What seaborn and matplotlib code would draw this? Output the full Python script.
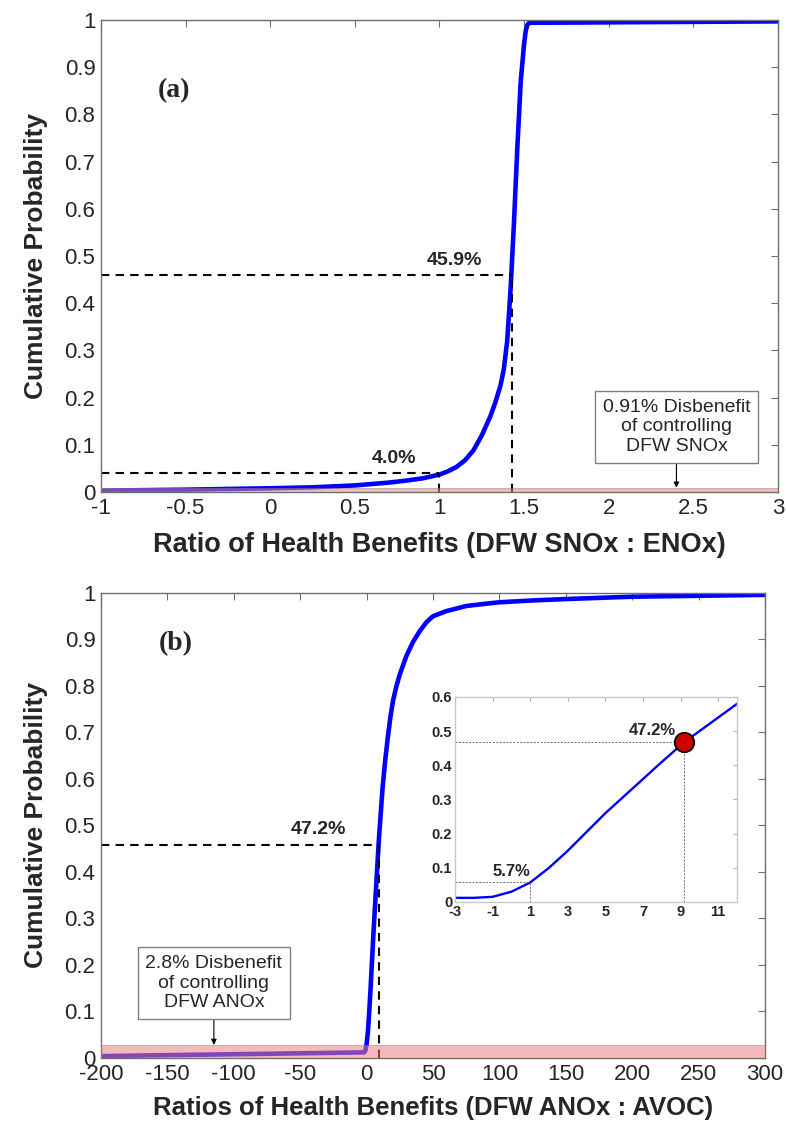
import matplotlib
matplotlib.use("Agg")
import matplotlib.pyplot as plt
import seaborn as sns

# ---------------- data ----------------
# Panel (a): CDF of ratio DFW SNOx : ENOx
ratio_a = [-1.0, -0.75, -0.5, -0.25, 0.0, 0.25, 0.5, 0.6, 0.7, 0.8, 0.9, 1.0, 1.05,
           1.1, 1.15, 1.2, 1.25, 1.3, 1.33, 1.36, 1.38, 1.40, 1.42, 1.44, 1.46, 1.48,
           1.50, 1.51, 1.52, 1.53, 2.0, 2.5, 3.0]
cdf_a = [0.003, 0.004, 0.005, 0.0065, 0.008, 0.010, 0.014, 0.017, 0.020, 0.024, 0.029,
         0.037, 0.044, 0.053, 0.067, 0.088, 0.120, 0.160, 0.190, 0.225, 0.260, 0.320,
         0.430, 0.570, 0.730, 0.870, 0.950, 0.978, 0.990, 0.994, 0.995, 0.996, 0.997]

# Panel (b): CDF of ratio DFW ANOx : AVOC
ratio_b = [-200, -150, -100, -50, -3, -2, -1, 0, 1, 2, 3, 4, 5, 6, 7, 8, 9.2, 10, 11,
           12, 14, 16, 18, 20, 22.5, 25, 30, 35, 40, 45, 50, 60, 75, 90, 100, 125, 150,
           200, 250, 300]
cdf_b = [0.004, 0.006, 0.008, 0.010, 0.012, 0.012, 0.015, 0.030, 0.057, 0.100, 0.150,
         0.205, 0.260, 0.310, 0.360, 0.410, 0.468, 0.500, 0.540, 0.580, 0.640, 0.690,
         0.735, 0.770, 0.800, 0.825, 0.865, 0.895, 0.918, 0.937, 0.950, 0.961, 0.972,
         0.977, 0.980, 0.984, 0.987, 0.992, 0.994, 0.996]

disbenefit_a = 0.0091
disbenefit_b = 0.028
mark_a = [(1.426, 0.459, "45.9%"), (1.0, 0.040, "4.0%")]
mark_b = (9.2, 0.458, "47.2%")
inset_marks = [(9.2, 0.468, "47.2%"), (1.0, 0.057, "5.7%")]

xticks_a = [-1, -0.5, 0, 0.5, 1, 1.5, 2, 2.5, 3]
xticks_b = [-200, -150, -100, -50, 0, 50, 100, 150, 200, 250, 300]
yticks = [0, 0.1, 0.2, 0.3, 0.4, 0.5, 0.6, 0.7, 0.8, 0.9, 1]
inset_xticks = [-3, -1, 1, 3, 5, 7, 9, 11]
inset_yticks = [0, 0.1, 0.2, 0.3, 0.4, 0.5, 0.6]

# ---------------- style ----------------
sns.set_style("white")
plt.rcParams['font.family'] = ['Liberation Sans', 'DejaVu Sans']
plt.rcParams['xtick.direction'] = 'in'
plt.rcParams['ytick.direction'] = 'in'

fig = plt.figure(figsize=(7.86, 11.28), dpi=100)
ax1 = fig.add_axes([0.1285, 0.5638, 0.8613, 0.4185])
ax2 = fig.add_axes([0.1285, 0.0621, 0.8448, 0.4122])

band_color = '#f08080'
spine_col = '#6e6e6e'
fmt = matplotlib.ticker.FuncFormatter(lambda v, p: '%g' % v)
serif = ['Liberation Serif', 'DejaVu Serif']


def style_axes(ax, fs=16):
    for s in ax.spines.values():
        s.set_color(spine_col)
        s.set_linewidth(1.0)
    ax.tick_params(axis='both', which='both', direction='in', top=True, right=True,
                   length=5, width=0.8, color=spine_col, labelsize=fs, pad=4)


box_style = dict(boxstyle='square,pad=0.4', fc='white', ec='#808080', lw=1)
arrow_style = dict(arrowstyle='-|>', color='k', lw=0.8, mutation_scale=8,
                   shrinkA=0, shrinkB=0)

# ---- Panel (a) ----
sns.lineplot(x=ratio_a, y=cdf_a, ax=ax1, color='#0000ff', lw=3.3)
ax1.axhspan(0, disbenefit_a, facecolor=band_color, alpha=0.55, edgecolor='#808080',
            lw=0.6, zorder=5)
ax1.set_xlim(-1, 3)
ax1.set_ylim(0, 1)
ax1.set_xticks(xticks_a)
ax1.set_yticks(yticks)
ax1.xaxis.set_major_formatter(fmt)
ax1.yaxis.set_major_formatter(fmt)
style_axes(ax1)
for (xv, yv, lab) in mark_a:
    ax1.plot([-1, xv], [yv, yv], color='k', lw=1.5, ls='--', dashes=(4, 3))
    ax1.plot([xv, xv], [0, yv], color='k', lw=1.5, ls='--', dashes=(4, 3))
ax1.text(1.09, 0.472, mark_a[0][2], fontsize=14, fontweight='bold', ha='center', va='bottom')
ax1.text(0.73, 0.072, mark_a[1][2], fontsize=14, fontweight='bold', ha='center', va='center')
ax1.text(-0.57, 0.85, "(a)", fontsize=20, fontweight='bold', ha='center', va='center',
         family=serif)
ax1.annotate("0.91% Disbenefit\nof controlling\nDFW SNOx", xy=(2.40, disbenefit_a),
             xytext=(2.40, 0.138), ha='center', va='center', fontsize=14, linespacing=1.2,
             bbox=box_style, arrowprops=arrow_style)
ax1.set_xlabel("Ratio of Health Benefits (DFW SNOx : ENOx)", fontsize=19.5,
               fontweight='bold', labelpad=10)
ax1.set_ylabel("Cumulative Probability", fontsize=19, fontweight='bold', labelpad=12)

# ---- Panel (b) ----
sns.lineplot(x=ratio_b, y=cdf_b, ax=ax2, color='#0000ff', lw=3.3)
ax2.axhspan(0, disbenefit_b, facecolor=band_color, alpha=0.55, edgecolor='#808080',
            lw=0.6, zorder=5)
ax2.set_xlim(-200, 300)
ax2.set_ylim(0, 1)
ax2.set_xticks(xticks_b)
ax2.set_yticks(yticks)
ax2.xaxis.set_major_formatter(fmt)
ax2.yaxis.set_major_formatter(fmt)
style_axes(ax2)
xv, yv, lab = mark_b
ax2.plot([-200, xv], [yv, yv], color='k', lw=1.5, ls='--', dashes=(4, 3))
ax2.plot([xv, xv], [0, yv], color='k', lw=1.5, ls='--', dashes=(4, 3))
ax2.text(-36, 0.472, lab, fontsize=14, fontweight='bold', ha='center', va='bottom')
ax2.text(-144, 0.892, "(b)", fontsize=20, fontweight='bold', ha='center', va='center',
         family=serif)
ax2.annotate("2.8% Disbenefit\nof controlling\nDFW ANOx", xy=(-115, disbenefit_b),
             xytext=(-115, 0.161), ha='center', va='center', fontsize=14, linespacing=1.2,
             bbox=box_style, arrowprops=arrow_style)
ax2.set_xlabel("Ratios of Health Benefits (DFW ANOx : AVOC)", fontsize=18.5,
               fontweight='bold', labelpad=8)
ax2.set_ylabel("Cumulative Probability", fontsize=19, fontweight='bold', labelpad=12)

# ---- Inset ----
axi = fig.add_axes([0.5789, 0.2004, 0.3588, 0.1817])
sns.lineplot(x=ratio_b, y=cdf_b, ax=axi, color='#0000ff', lw=1.7)
axi.set_xlim(-3, 12)
axi.set_ylim(0, 0.6)
axi.set_xticks(inset_xticks)
axi.set_yticks(inset_yticks)
axi.xaxis.set_major_formatter(fmt)
axi.yaxis.set_major_formatter(fmt)
for s in axi.spines.values():
    s.set_color('#c8c8c8')
    s.set_linewidth(1.0)
axi.tick_params(axis='both', direction='in', top=True, right=True, length=3,
                color='#b0b0b0', labelsize=10.5, pad=2)
for t in axi.get_xticklabels() + axi.get_yticklabels():
    t.set_fontweight('bold')
for (xv, yv, lab) in inset_marks:
    axi.plot([-3, xv], [yv, yv], color='#707070', lw=0.7, ls='--', dashes=(2, 1.5))
    axi.plot([xv, xv], [0, yv], color='#707070', lw=0.7, ls='--', dashes=(2, 1.5))
axi.plot([inset_marks[0][0]], [inset_marks[0][1]], 'o', ms=14, mfc='#cc0000', mec='k',
         mew=1.3, zorder=6)
axi.text(7.5, 0.503, inset_marks[0][2], fontsize=12, fontweight='bold', ha='center',
         va='center')
axi.text(0.0, 0.088, inset_marks[1][2], fontsize=12, fontweight='bold', ha='center',
         va='center')
axi.set_xlabel("")
axi.set_ylabel("")

fig.savefig("out.png", dpi=100)
